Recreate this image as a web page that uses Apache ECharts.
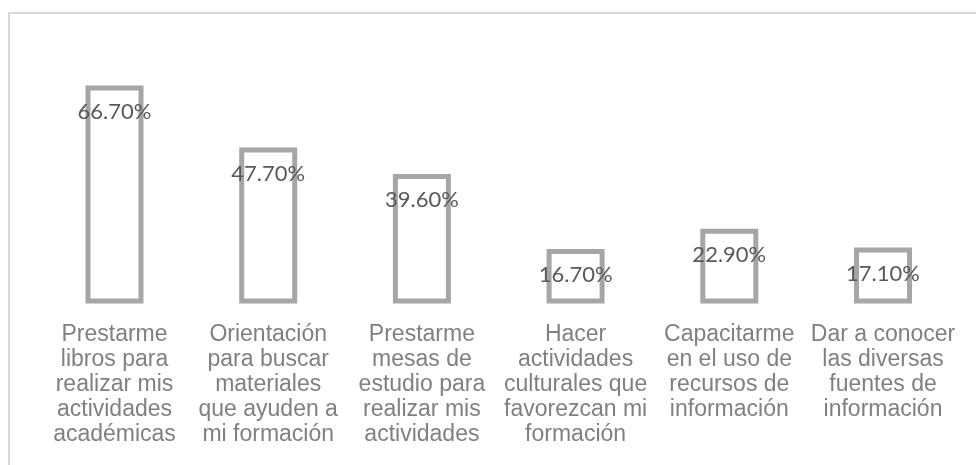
<!DOCTYPE html>
<html>
<head>
<meta charset="utf-8">
<script src="https://cdn.jsdelivr.net/npm/echarts@6/dist/echarts.min.js"></script>
<style>
  html, body { margin: 0; padding: 0; background: #fff; }
  #chart { width: 976px; height: 465px; }
</style>
</head>
<body>
<div id="chart"></div>
<script>
  // categorias (saltos de linea como en la figura)
  var categories = [
    'Prestarme\nlibros para\nrealizar mis\nactividades\nacadémicas',
    'Orientación\npara buscar\nmateriales\nque ayuden a\nmi formación',
    'Prestarme\nmesas de\nestudio para\nrealizar mis\nactividades',
    'Hacer\nactividades\nculturales que\nfavorezcan mi\nformación',
    'Capacitarme\nen el uso de\nrecursos de\ninformación',
    'Dar a conocer\nlas diversas\nfuentes de\ninformación'
  ];
  var values = [66.7, 47.7, 39.6, 16.7, 22.9, 17.1];

  var chart = echarts.init(document.getElementById('chart'));
  chart.setOption({
    animation: false,
    backgroundColor: '#fff',
    graphic: [{
      type: 'rect',
      shape: { x: 9, y: 13, width: 1100, height: 600 },
      style: { fill: 'none', stroke: '#d9d9d9', lineWidth: 2 },
      silent: true
    }],
    grid: {
      left: 37.65,
      right: 16.15,
      top: 42,
      bottom: 161.5
    },
    xAxis: {
      type: 'category',
      data: categories,
      axisLine: { show: false },
      axisTick: { show: false },
      axisLabel: {
        interval: 0,
        margin: 19,
        fontFamily: 'Liberation Sans, Arial',
        fontSize: 23,
        lineHeight: 25,
        color: '#808080'
      }
    },
    yAxis: {
      type: 'value',
      min: 0,
      max: 80,
      show: false,
      splitLine: { show: false }
    },
    series: [{
      type: 'bar',
      data: values,
      barWidth: 58,
      itemStyle: {
        color: '#ffffff',
        borderColor: '#a6a6a6',
        borderWidth: 5
      },
      label: {
        show: true,
        position: 'insideTop',
        distance: 15,
        fontFamily: 'Lato',
        fontSize: 22,
        color: '#595959',
        formatter: function (p) {
          return p.value.toFixed(2) + '%';
        }
      }
    }]
  });
</script>
</body>
</html>
